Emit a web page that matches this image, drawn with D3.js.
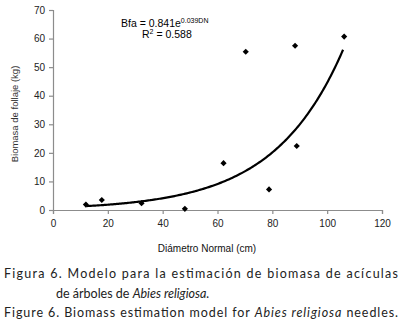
<!DOCTYPE html>
<html><head><meta charset="utf-8">
<script src="https://cdn.jsdelivr.net/npm/d3@7/dist/d3.min.js"></script>
<style>body{margin:0;background:#fff}</style>
</head><body><svg id="c" width="403" height="333"></svg>
<script>
const diam = [12, 17.8, 32.3, 48.1, 62.2, 78.8, 88.9, 70.3, 88.3, 106.2];
const biomass = [1.9, 3.5, 2.4, 0.4, 16.4, 7.2, 22.4, 55.4, 57.5, 60.7];
const fitA = 0.841, fitB = 0.0397;
const fitRange = [12.3, 106];
const xTicks = [0, 20, 40, 60, 80, 100, 120];
const yTicks = [0, 10, 20, 30, 40, 50, 60, 70];

const svg = d3.select("#c");
const x = d3.scaleLinear().domain([0, 120]).range([53, 382]);
const y = d3.scaleLinear().domain([0, 70]).range([210, 10]);
const axisCol = "#8c8c8c";
const font = "'Liberation Sans', Arial, sans-serif";

const gx = svg.append("g").attr("transform", "translate(0,210)")
  .call(d3.axisBottom(x).tickValues(xTicks).tickSize(4).tickPadding(6));
const gy = svg.append("g").attr("transform", "translate(53,0)")
  .call(d3.axisLeft(y).tickValues(yTicks).tickSize(4).tickPadding(4));
[gx, gy].forEach(g => {
  g.selectAll("path,line").attr("stroke", axisCol).attr("stroke-width", 1.2);
  g.selectAll("text").attr("fill", "#222").style("font-family", font).style("font-size", "10px");
});

const fitPts = d3.range(fitRange[0], fitRange[1] + 0.01, 0.5).map(d => [d, fitA * Math.exp(fitB * d)]);
svg.append("path").datum(fitPts)
  .attr("d", d3.line().x(d => x(d[0])).y(d => y(d[1])).curve(d3.curveMonotoneX))
  .attr("fill", "none").attr("stroke", "#000").attr("stroke-width", 2.2);

svg.selectAll(".pt").data(diam.map((d, i) => [d, biomass[i]])).enter()
  .append("path")
  .attr("transform", d => `translate(${x(d[0])},${y(d[1])})`)
  .attr("d", d3.symbol().type(d3.symbolDiamond2).size(24))
  .attr("fill", "#000");

const eq = svg.append("text").attr("x", 121).attr("y", 27)
  .style("font-family", font).style("font-size", "10.5px").attr("fill", "#000");
eq.append("tspan").text("Bfa = 0.841e");
eq.append("tspan").attr("dy", -4).style("font-size", "7px").text("0.039DN");
const r2 = svg.append("text").attr("x", 142).attr("y", 38)
  .style("font-family", font).style("font-size", "10.5px").attr("fill", "#000");
r2.append("tspan").text("R");
r2.append("tspan").attr("dy", -4).style("font-size", "7px").text("2");
r2.append("tspan").attr("dy", 4).text(" = 0.588");

svg.append("text").attr("transform", "translate(18,114) rotate(-90)")
  .attr("text-anchor", "middle").style("font-family", font).style("font-size", "9.5px")
  .attr("fill", "#333").text("Biomasa de follaje (kg)");
svg.append("text").attr("x", 207).attr("y", 252).attr("text-anchor", "middle")
  .style("font-family", font).style("font-size", "10px").attr("fill", "#111").text("Diámetro Normal (cm)");

const cf = "Lato, 'Open Sans', sans-serif";
const c1 = svg.append("text").attr("x", 4).attr("y", 278).attr("textLength", 394)
  .attr("lengthAdjust", "spacing").style("font-family", cf).style("font-size", "12.5px")
  .attr("fill", "#222");
c1.append("tspan").text("Figura 6. Modelo para la estimación de biomasa de acículas");
const c2 = svg.append("text").attr("x", 56).attr("y", 298)
  .style("font-family", cf).style("font-size", "12.5px").attr("fill", "#222");
c2.append("tspan").text("de árboles de ");
c2.append("tspan").style("font-style", "italic").text("Abies religiosa.");
const c3 = svg.append("text").attr("x", 4).attr("y", 317).attr("textLength", 394)
  .attr("lengthAdjust", "spacing").style("font-family", cf).style("font-size", "12.5px").attr("fill", "#222");
c3.append("tspan").text("Figure 6. Biomass estimation model for ");
c3.append("tspan").style("font-style", "italic").text("Abies religiosa");
c3.append("tspan").text(" needles.");
</script></body></html>
